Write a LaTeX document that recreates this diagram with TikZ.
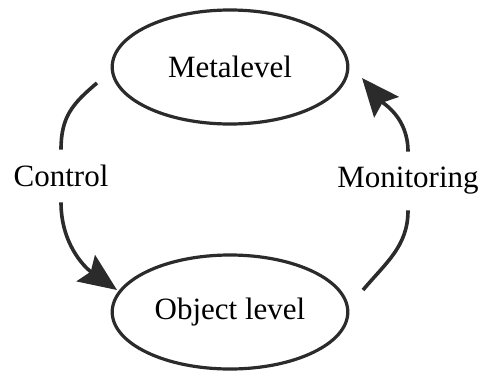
\documentclass[tikz,border=0pt]{standalone}
\usepackage{fontspec}
\setmainfont{Liberation Serif}
\usetikzlibrary{arrows.meta,shapes.geometric}
\definecolor{DarkLine}{HTML}{2B2B2B}

\begin{document}
\begin{tikzpicture}[
	x=0.5pt, y=0.5pt,
	Level/.style={draw=DarkLine, ellipse, line width=1.6pt, minimum width=117.8pt,
		minimum height=57pt, inner sep=0pt, font=\fontsize{15.5}{18}\selectfont},
	Lbl/.style={inner sep=0pt, font=\fontsize{15.5}{18}\selectfont},
	Flow/.style={draw=DarkLine, line width=1.8pt},
	Head/.style={-{Stealth[length=19pt, width=16pt, inset=3pt]}},
	]
	\useasboundingbox (0,0) rectangle (481,371);
	
	\node [Level] (meta) at (230,304) {Metalevel};
	\node [Level] (obj) at (230,59) {Object level};
	
	\node [Lbl, minimum height=26pt] (control) at (61,195) {Control};
	\node [Lbl, minimum height=29pt] (monitor) at (408,190) {Monitoring};
	
	% free ends of the arcs
	\coordinate (c1) at (97,288);
	\coordinate (c2) at (117,81);
	\coordinate (m1) at (363,81);
	\coordinate (m2) at (362,293);
	
	\draw [Flow] (c1) to[out=220, in=90, looseness=1.1] (control.north);
	\draw [Flow, Head] (control.south) to[out=-90, in=145] (c2);
	\draw [Flow] (m1) to[out=50, in=-90] (monitor.south);
	\draw [Flow, Head] (monitor.north) to[out=90, in=-50] (m2);
\end{tikzpicture}
\end{document}
